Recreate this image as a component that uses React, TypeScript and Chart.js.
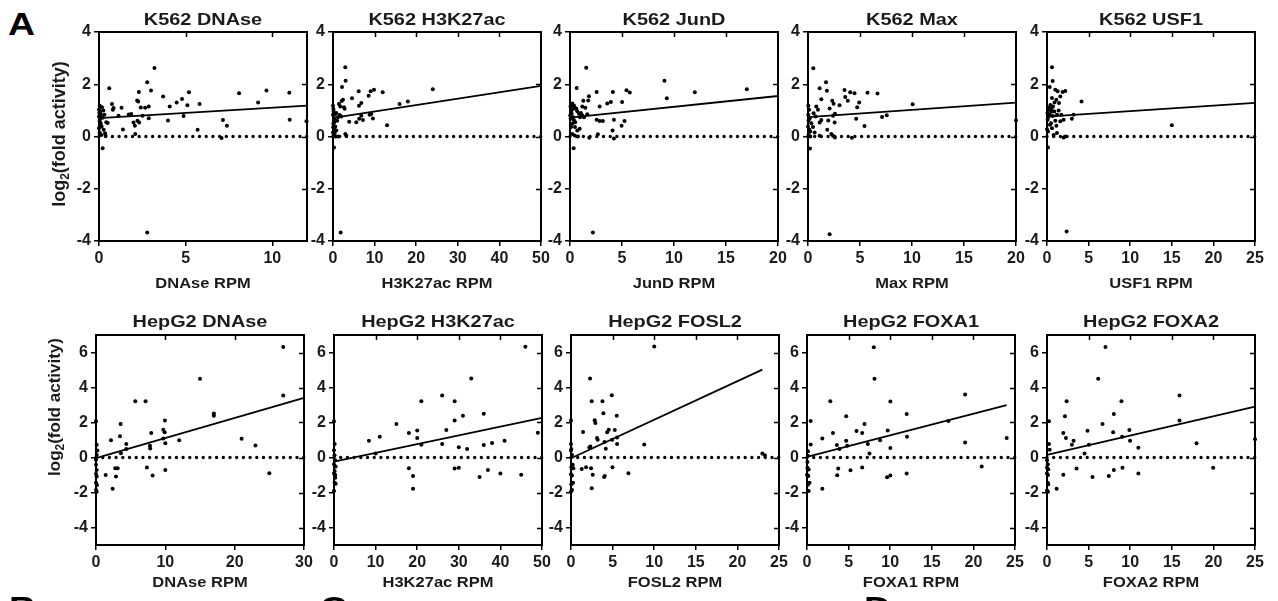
import React, { useEffect, useRef } from "react";
import { Chart, registerables } from "chart.js";
Chart.register(...registerables);

const FONT = "'Liberation Sans', Arial, Helvetica, sans-serif";
const TEXT = "#1b1b1b";

// ---------- tick labels ----------
const ticksK562Y = [-4, -2, 0, 2, 4];
const ticksHepG2Y = [-4, -2, 0, 2, 4, 6];
const ticks0to10by5 = [0, 5, 10];
const ticks0to50by10 = [0, 10, 20, 30, 40, 50];
const ticks0to20by5 = [0, 5, 10, 15, 20];
const ticks0to25by5 = [0, 5, 10, 15, 20, 25];
const ticks0to30by10 = [0, 10, 20, 30];

// ---------- series: [RPM, log2(fold activity)] ----------
const k562Dnase = [
  [0.59, 1.85], [3.2, 2.62], [2.78, 2.08], [3.0, 1.76], [2.3, 1.7], [3.7, 1.53], [5.19, 1.69], [4.79, 1.44],
  [4.48, 1.3], [4.08, 1.15], [2.2, 1.38], [2.26, 1.34], [5.8, 1.24], [5.1, 1.2], [8.08, 1.66], [9.66, 1.76],
  [10.98, 1.67], [9.18, 1.3], [11.0, 0.64], [11.97, 0.58], [7.15, 0.63], [7.38, 0.41], [7.07, -0.06], [3.98, 0.61],
  [4.88, 0.78], [5.69, 0.26], [2.78, -3.67], [0.21, -0.45], [0.42, 0.55], [0.5, 0.52], [0.75, 1.24], [0.8, 1.02],
  [0.84, 1.09], [1.3, 1.1], [1.13, 0.79], [1.38, 0.27], [1.72, 0.84], [1.86, 0.86], [1.99, 0.54], [2.07, 0.41],
  [2.09, 0.1], [2.22, 0.6], [2.32, 0.54], [2.41, 1.11], [2.66, 1.1], [2.87, 1.15], [2.87, 0.7], [2.51, 0.79],
  [0.38, 0.03], [0, 1.02], [0.04, 1.18], [0.08, 0.96], [0.11, 0.83], [0, 0.77], [0.04, 0.58], [0.08, 0.45],
  [0, 0.32], [0.04, 0.15], [0.13, 0.06], [0.27, 0.26], [0.31, 0.83], [0.17, 1.12], [0.02, 0.9], [0.06, 0.68],
  [0.1, 0.5], [0.15, 0.38], [0.2, 0.72], [0.25, 1.0], [0.35, 0.12],
];
const k562H3k27ac = [
  [2.96, 2.65], [3.04, 2.13], [2.16, 1.89], [1.84, -3.67], [0.24, -0.42], [4.57, 1.46], [6.17, 1.73], [6.81, 1.28],
  [6.25, 1.18], [8.57, 1.56], [9.05, 1.73], [9.86, 1.79], [11.94, 1.69], [16.0, 1.24], [18.0, 1.34], [24.0, 1.81],
  [13.0, 0.43], [9.2, 0.86], [9.6, 0.69], [8.8, 0.83], [6.8, 0.79], [6.3, 0.68], [7.2, 0.63], [5.6, 0.55],
  [3.9, 0.56], [2.96, 0.1], [3.2, 0.03], [2.4, 1.41], [2.64, 1.12], [1.76, 1.15], [1.44, 1.24], [2.08, 1.36],
  [2.8, 1.06], [2.0, 0.77], [1.2, 0.74], [0.8, 0.9], [0.48, 0.64], [0.56, 0.38], [0.8, 0.23], [0.4, 0.13],
  [0.64, 0.0], [1.2, 0.0], [0, 1.18], [0.16, 0.96], [0, 0.83], [0.24, 0.7], [0.08, 0.49], [0.32, 0.28],
  [0, 0.15], [0.16, 0.04], [0.1, 1.05], [0.3, 0.55], [0.05, 0.35], [0.5, 0.85], [1.0, 0.6], [1.6, 0.82],
];
const k562Jund = [
  [1.56, 2.63], [0.64, 1.86], [2.56, 1.7], [4.12, 1.7], [5.43, 1.77], [5.75, 1.68], [3.93, 1.32], [3.58, 1.26],
  [5.01, 1.32], [2.85, 1.15], [1.28, 1.37], [1.75, 1.38], [1.82, 1.54], [1.18, 1.15], [1.47, 1.1], [2.56, 0.64],
  [2.85, 0.59], [3.16, 0.59], [4.22, 0.64], [5.24, 0.59], [4.96, 0.41], [4.09, 0.23], [2.68, 0.09], [4.22, -0.08],
  [1.85, -0.05], [0.35, -0.45], [9.08, 2.13], [9.31, 1.46], [12.0, 1.69], [17.0, 1.81], [2.2, -3.67],
  [0.22, 1.26], [0.38, 1.19], [0.48, 1.1], [0.61, 1.06], [0.7, 0.97], [0.86, 0.87], [0.96, 0.74], [1.05, 0.9],
  [1.18, 0.81], [1.34, 0.74], [1.66, 0.85], [0.16, 0.87], [0.29, 0.74], [0.38, 0.62], [0.22, 0.49], [0.48, 0.36],
  [0.7, 0.23], [0.93, 0.3], [0.22, 0.1], [0.45, 0.04], [0.77, 0.0], [0.13, 1.0], [0.32, 1.06], [0.06, 0.68],
  [0.1, 0.36], [0.05, 1.15], [0.02, 0.8], [0.5, 0.55],
];
const k562Max = [
  [0.51, 2.61], [1.73, 2.08], [1.12, 1.85], [1.82, 1.75], [1.28, 1.43], [3.51, 1.78], [4.06, 1.69], [4.47, 1.66],
  [5.72, 1.67], [6.68, 1.65], [3.58, 1.51], [3.83, 1.37], [2.33, 1.37], [2.46, 1.25], [3.03, 1.2], [4.92, 1.3],
  [4.73, 1.12], [2.08, 1.07], [10.06, 1.23], [7.12, 0.75], [7.57, 0.81], [4.63, 0.68], [5.43, 0.4], [4.22, -0.05],
  [2.59, -0.04], [2.08, -3.74], [0.19, -0.46], [1.12, 0.54], [1.28, 0.63], [1.95, 0.61], [2.56, 0.54], [2.59, 0.87],
  [2.4, 0.79], [1.85, 0.26], [2.24, 0.1], [2.4, 0.03], [1.12, 0.03], [0.8, 1.15], [0.96, 1.02], [0.54, 0.89],
  [0.73, 0.77], [0.32, 0.51], [0.48, 0.36], [0.22, 0.19], [0.64, 0.15], [0.03, 1.18], [0.1, 1.02], [0.03, 0.83],
  [0.16, 0.7], [0.06, 0.6], [0, 0.38], [0.13, 0.26], [0.06, 0.06], [0.22, 0.0], [20, 0.62],
];
const k562Usf1 = [
  [0.6, 2.65], [0.68, 2.12], [0.32, 1.89], [1.0, 1.79], [1.28, 1.73], [2.2, 1.74], [1.88, 1.7], [0.6, 1.47],
  [1.6, 1.53], [4.15, 1.34], [1.12, 1.41], [1.44, 1.28], [0.4, 1.21], [0.72, 1.15], [0.2, 1.02], [0.88, 0.96],
  [1.2, 0.83], [1.72, 0.83], [3.19, 0.83], [2.99, 0.68], [15.0, 0.43], [2.36, -3.64], [0.12, -0.42], [0, 0.28],
  [0.12, 0.19], [0.6, 0.32], [0.8, 0.06], [1.12, 0.41], [1.2, 0.13], [2.0, -0.04], [2.2, 0], [1.6, 0.58],
  [2.0, 0.64], [0.32, 0.83], [0.48, 0.51], [0.08, 0.64], [0.25, 1.1], [0.5, 0.95], [0.9, 1.3], [1.0, 0.6],
  [0.15, 0.75], [0.35, 0.45], [0.7, 0.78], [1.4, 1.0], [0.05, 0.9], [0.55, 1.05],
];
const hepg2Dnase = [
  [27, 6.32], [27, 3.54], [15, 4.5], [5.66, 3.22], [7.15, 3.22], [17, 2.51], [17, 2.39], [3.55, 1.92],
  [9.94, 2.11], [0, 2.07], [9.7, 1.59], [9.9, 1.44], [7.97, 1.4], [3.46, 1.21], [9.7, 1.09], [2.16, 0.98],
  [12, 0.98], [21, 1.07], [23, 0.69], [10, 0.82], [4.37, 0.77], [7.78, 0.67], [7.82, 0.52], [4.37, 0.48],
  [0.1, 0.73], [0.19, 0.4], [3.6, 0.25], [2.78, -0.61], [3.12, -0.61], [7.34, -0.57], [10, -0.71], [1.39, -1.0],
  [8.16, -1.03], [2.88, -1.09], [25, -0.9], [2.4, -1.78], [0, -0.42], [0.1, -0.71], [0, -0.94], [0.1, -1.09],
  [0, -1.44], [0.15, -1.57], [0, -1.86], [0.1, -1.95], [0, -0.13], [0.1, 0.15],
];
const hepg2H3k27ac = [
  [46, 6.33], [33, 4.51], [26, 3.55], [21, 3.22], [29, 3.21], [31, 2.38], [36, 2.5], [29, 2.11],
  [15, 1.92], [27, 1.57], [20, 1.54], [18, 1.4], [20, 1.11], [11, 1.19], [8.4, 0.96], [41, 0.96],
  [21, 0.73], [26, 0.77], [38, 0.83], [36, 0.71], [30, 0.58], [32, 0.48], [49, 1.42], [10, 0.23],
  [18, -0.61], [29, -0.63], [30, -0.58], [37, -0.71], [40, -0.92], [45, -0.98], [19, -1.06], [35, -1.11],
  [19, -1.79], [0, 2.07], [0.16, 0.77], [0, 0.42], [0.13, 0.13], [0.3, -0.15], [0, -0.38], [0.4, -0.52],
  [0.16, -0.77], [0, -0.92], [0.3, -1.0], [0.16, -1.44], [0.4, -1.5], [0, -1.92], [0.3, -1.15],
];
const hepg2Fosl2 = [
  [10.0, 6.34], [2.29, 4.52], [2.49, 3.22], [3.78, 3.22], [4.9, 3.56], [3.9, 2.53], [5.5, 2.38], [2.85, 2.13],
  [2.93, 1.97], [4.54, 1.59], [4.34, 1.44], [5.26, 1.57], [1.45, 1.46], [3.13, 1.11], [3.21, 1.02], [4.94, 1.02],
  [5.54, 1.15], [4.02, 0.88], [2.33, 0.63], [2.21, 0.57], [4.18, 0.5], [5.54, 0.77], [8.8, 0.75], [0, 2.11],
  [1.29, -0.65], [1.81, -0.56], [2.41, -0.61], [4.98, -0.56], [2.61, -0.98], [4.06, -1.05], [3.98, -1.11], [6.9, -0.9],
  [2.49, -1.76], [0, 0.77], [0.04, 0.48], [0.12, 0.15], [0.2, -0.42], [0.04, -0.56], [0.28, -0.61], [0, -0.96],
  [0.12, -1.03], [0.24, -1.44], [0.04, -1.53], [0.12, -1.86], [0, -1.95], [23.0, 0.23], [23.3, 0.13], [0, 0.4],
];
const hepg2Foxa1 = [
  [8.03, 6.3], [8.11, 4.5], [2.8, 3.22], [10.02, 3.2], [4.71, 2.36], [11.98, 2.49], [0.44, 2.09], [6.91, 1.92],
  [3.12, 1.4], [5.95, 1.51], [6.63, 1.4], [9.7, 1.55], [1.84, 1.09], [12.02, 1.19], [4.71, 0.96], [8.79, 0.98],
  [3.59, 0.71], [4.83, 0.67], [7.31, 0.77], [3.91, 0.48], [7.51, 0.23], [10.02, 0.54], [17.0, 2.09], [0.44, 0.75],
  [3.75, -0.63], [6.63, -0.57], [3.63, -1.02], [5.23, -0.73], [9.62, -1.13], [10.02, -1.03], [11.98, -0.92], [1.84, -1.78],
  [19.0, 3.6], [19.0, 0.86], [24.0, 1.11], [21.0, -0.52], [0.12, 0.36], [0.05, -0.25], [0.05, -0.59], [0.2, -0.69],
  [0, -0.98], [0.16, -1.05], [0.3, -1.44], [0.1, -1.55], [0.2, -1.92], [0.1, 0.1],
];
const hepg2Foxa2 = [
  [7.03, 6.32], [6.15, 4.5], [2.36, 3.22], [8.95, 3.22], [15.93, 3.54], [2.16, 2.36], [8.03, 2.49], [0.24, 2.07],
  [15.93, 2.11], [6.67, 1.92], [4.87, 1.53], [9.9, 1.57], [1.96, 1.4], [7.95, 1.44], [9.03, 1.19], [2.28, 1.11],
  [3.19, 0.96], [9.98, 0.96], [5.03, 0.73], [2.99, 0.73], [10.98, 0.56], [17.97, 0.82], [25.0, 1.05], [0.24, 0.77],
  [0.32, 0.44], [4.51, 0.23], [3.55, -0.63], [9.07, -0.59], [8.03, -0.71], [10.98, -0.92], [1.96, -0.98], [7.43, -1.05],
  [5.47, -1.11], [19.97, -0.59], [1.16, -1.78], [0, -0.15], [0.1, -0.38], [0, -0.57], [0.15, -0.67], [0, -0.92],
  [0.12, -1.0], [0.1, -1.44], [0.15, -1.53], [0, -1.88], [0.12, -1.95],
];

// ---------- regression lines: [[x0, y0], [x1, y1]] ----------
const k562DnaseFit = [[0, 0.7], [12, 1.18]];
const k562H3k27acFit = [[0, 0.71], [50, 1.94]];
const k562JundFit = [[0, 0.72], [20, 1.55]];
const k562MaxFit = [[0, 0.74], [20, 1.3]];
const k562Usf1Fit = [[0, 0.76], [25, 1.29]];
const hepg2DnaseFit = [[0, -0.04], [30, 3.41]];
const hepg2H3k27acFit = [[0, -0.23], [50, 2.26]];
const hepg2Fosl2Fit = [[0, -0.04], [23, 5.02]];
const hepg2Foxa1Fit = [[0, 0.03], [24, 2.99]];
const hepg2Foxa2Fit = [[0, 0.15], [25, 2.91]];

// ---------- layout ----------
const PAD_L = 60, PAD_T = 32, PAD_R = 24, PAD_B = 52, PLOT_W = 208;

const rowTop = {
  plotTop: 32, plotH: 209, yMin: -4, yMax: 4, yTicks: ticksK562Y,
  titleOff: 7, xTitleOff: 47, yTitleDx: -39, yTitleDy: 102, yTitleSize: 18,
};
const rowBottom = {
  plotTop: 335, plotH: 210, yMin: -5, yMax: 7, yTicks: ticksHepG2Y,
  titleOff: 8.5, xTitleOff: 42, yTitleDx: -40, yTitleDy: 72, yTitleSize: 17,
};

const panels = [
  { row: rowTop, left: 99, title: "K562 DNAse", xLabel: "DNAse RPM", xMax: 12, xTicks: ticks0to10by5, pts: k562Dnase, fit: k562DnaseFit, yTitle: true },
  { row: rowTop, left: 333, title: "K562 H3K27ac", xLabel: "H3K27ac RPM", xMax: 50, xTicks: ticks0to50by10, pts: k562H3k27ac, fit: k562H3k27acFit },
  { row: rowTop, left: 570, title: "K562 JunD", xLabel: "JunD RPM", xMax: 20, xTicks: ticks0to20by5, pts: k562Jund, fit: k562JundFit },
  { row: rowTop, left: 808, title: "K562 Max", xLabel: "Max RPM", xMax: 20, xTicks: ticks0to20by5, pts: k562Max, fit: k562MaxFit },
  { row: rowTop, left: 1047, title: "K562 USF1", xLabel: "USF1 RPM", xMax: 25, xTicks: ticks0to25by5, pts: k562Usf1, fit: k562Usf1Fit },
  { row: rowBottom, left: 96, title: "HepG2 DNAse", xLabel: "DNAse RPM", xMax: 30, xTicks: ticks0to30by10, pts: hepg2Dnase, fit: hepg2DnaseFit, yTitle: true },
  { row: rowBottom, left: 334, title: "HepG2 H3K27ac", xLabel: "H3K27ac RPM", xMax: 50, xTicks: ticks0to50by10, pts: hepg2H3k27ac, fit: hepg2H3k27acFit },
  { row: rowBottom, left: 571, title: "HepG2 FOSL2", xLabel: "FOSL2 RPM", xMax: 25, xTicks: ticks0to25by5, pts: hepg2Fosl2, fit: hepg2Fosl2Fit },
  { row: rowBottom, left: 807, title: "HepG2 FOXA1", xLabel: "FOXA1 RPM", xMax: 25, xTicks: ticks0to25by5, pts: hepg2Foxa1, fit: hepg2Foxa1Fit },
  { row: rowBottom, left: 1047, title: "HepG2 FOXA2", xLabel: "FOXA2 RPM", xMax: 25, xTicks: ticks0to25by5, pts: hepg2Foxa2, fit: hepg2Foxa2Fit },
];

function drawScaledText(ctx: CanvasRenderingContext2D, text: string, cx: number, baseline: number, size: number, sx: number) {
  ctx.save();
  ctx.translate(cx, baseline);
  ctx.scale(sx, 1);
  ctx.font = `bold ${size}px ${FONT}`;
  ctx.textAlign = "center";
  ctx.textBaseline = "alphabetic";
  ctx.fillStyle = TEXT;
  ctx.fillText(text, 0, 0);
  ctx.restore();
}

function makeDecor(p: any) {
  return {
    id: "decor",
    afterDraw(chart: any) {
      const ctx: CanvasRenderingContext2D = chart.ctx;
      const { left, right, top, bottom } = chart.chartArea;
      const xs = chart.scales.x;
      const ys = chart.scales.y;
      ctx.save();
      ctx.strokeStyle = "#000";
      ctx.lineWidth = 2;
      ctx.beginPath();
      ctx.moveTo(left - 1, top);
      ctx.lineTo(right, top);
      ctx.lineTo(right, bottom + 1);
      ctx.stroke();
      ctx.lineWidth = 1.5;
      ctx.beginPath();
      for (const v of p.xTicks) {
        if (v <= xs.min || v >= xs.max) continue;
        const px = Math.round(xs.getPixelForValue(v)) + 0.5;
        ctx.moveTo(px, top);
        ctx.lineTo(px, top + 5);
      }
      for (const v of p.row.yTicks) {
        if (v <= ys.min || v >= ys.max) continue;
        const py = Math.round(ys.getPixelForValue(v)) + 0.5;
        ctx.moveTo(right, py);
        ctx.lineTo(right - 5, py);
      }
      ctx.stroke();
      ctx.restore();

      const cx = (left + right) / 2;
      drawScaledText(ctx, p.title, cx, top - p.row.titleOff, 17, 1.17);
      drawScaledText(ctx, p.xLabel, cx, bottom + p.row.xTitleOff, 15, 1.1);

      if (p.yTitle) {
        const size = p.row.yTitleSize;
        ctx.save();
        ctx.translate(left + p.row.yTitleDx, top + p.row.yTitleDy);
        ctx.rotate(-Math.PI / 2);
        ctx.fillStyle = TEXT;
        ctx.textBaseline = "alphabetic";
        ctx.textAlign = "left";
        const big = `bold ${size}px ${FONT}`;
        const small = `bold ${Math.round(size * 0.68)}px ${FONT}`;
        ctx.font = big;
        const w1 = ctx.measureText("log").width;
        const w3 = ctx.measureText("(fold activity)").width;
        ctx.font = small;
        const w2 = ctx.measureText("2").width;
        const total = w1 + w2 + w3;
        const base = size * 0.26;
        let x = -total / 2;
        ctx.font = big;
        ctx.fillText("log", x, base);
        x += w1;
        ctx.font = small;
        ctx.fillText("2", x, base + size * 0.22);
        x += w2;
        ctx.font = big;
        ctx.fillText("(fold activity)", x, base);
        ctx.restore();
      }
    },
  };
}

function Panel({ p }: { p: any }) {
  const ref = useRef<HTMLCanvasElement | null>(null);
  const W = PAD_L + PLOT_W + PAD_R;
  const H = PAD_T + p.row.plotH + PAD_B;
  const cLeft = p.left - PAD_L;
  const cTop = p.row.plotTop - PAD_T;

  useEffect(() => {
    if (!ref.current) return;
    const tickFont = { family: FONT, size: 16, weight: "bold" as const };
    const chart = new Chart(ref.current, {
      type: "scatter",
      data: {
        datasets: [
          {
            type: "scatter",
            data: p.pts.map((d: number[]) => ({ x: d[0], y: d[1] })),
            pointRadius: 2,
            pointHoverRadius: 2,
            pointBackgroundColor: "#000",
            pointBorderWidth: 0,
            clip: false,
          } as any,
          {
            type: "line",
            data: p.fit.map((d: number[]) => ({ x: d[0], y: d[1] })),
            borderColor: "#000",
            borderWidth: 1.8,
            pointRadius: 0,
            clip: false,
          } as any,
          {
            type: "line",
            data: [{ x: 0, y: 0 }, { x: p.xMax, y: 0 }],
            borderColor: "#000",
            borderWidth: 3.4,
            borderDash: [0, 6.7],
            borderCapStyle: "round",
            pointRadius: 0,
            clip: false,
          } as any,
        ],
      },
      options: {
        responsive: false,
        animation: false,
        events: [],
        devicePixelRatio: 1,
        layout: { padding: { left: 0, top: PAD_T, right: PAD_R, bottom: 0 } },
        plugins: { legend: { display: false }, tooltip: { enabled: false }, title: { display: false } },
        scales: {
          x: {
            type: "linear",
            position: "bottom",
            min: 0,
            max: p.xMax,
            afterBuildTicks: (s: any) => { s.ticks = p.xTicks.map((v: number) => ({ value: v })); },
            afterFit: (s: any) => { s.height = PAD_B; },
            ticks: { font: tickFont, color: TEXT, padding: 3, autoSkip: false, maxRotation: 0 },
            grid: { display: true, drawOnChartArea: false, drawTicks: true, tickLength: 5, color: "#000", lineWidth: 1.5 },
            border: { display: true, color: "#000", width: 2 },
          },
          y: {
            type: "linear",
            position: "left",
            min: p.row.yMin,
            max: p.row.yMax,
            afterBuildTicks: (s: any) => { s.ticks = p.row.yTicks.map((v: number) => ({ value: v })); },
            afterFit: (s: any) => { s.width = PAD_L; },
            ticks: { font: tickFont, color: TEXT, padding: 3, autoSkip: false },
            grid: { display: true, drawOnChartArea: false, drawTicks: true, tickLength: 5, color: "#000", lineWidth: 1.5 },
            border: { display: true, color: "#000", width: 2 },
          },
        },
      } as any,
      plugins: [makeDecor(p)],
    });
    return () => chart.destroy();
  }, []);

  return (
    <canvas
      ref={ref}
      width={W}
      height={H}
      style={{ position: "absolute", left: cLeft, top: cTop, width: W, height: H }}
    />
  );
}

const letterStyle = (left: number, top: number): React.CSSProperties => ({
  position: "absolute",
  left,
  top,
  font: `bold 32px ${FONT}`,
  lineHeight: "32px",
  color: "#000",
  transform: "scaleX(1.17)",
  transformOrigin: "left top",
  whiteSpace: "nowrap",
});

export default function App() {
  return (
    <div
      style={{
        position: "fixed",
        left: 0,
        top: 0,
        width: 1278,
        height: 601,
        overflow: "hidden",
        background: "#fff",
      }}
    >
      {panels.map((p, i) => (
        <Panel key={i} p={p} />
      ))}
      <div style={letterStyle(8, 8)}>A</div>
      <div style={letterStyle(9, 592)}>B</div>
      <div style={letterStyle(320, 592)}>C</div>
      <div style={letterStyle(864, 592)}>D</div>
    </div>
  );
}
